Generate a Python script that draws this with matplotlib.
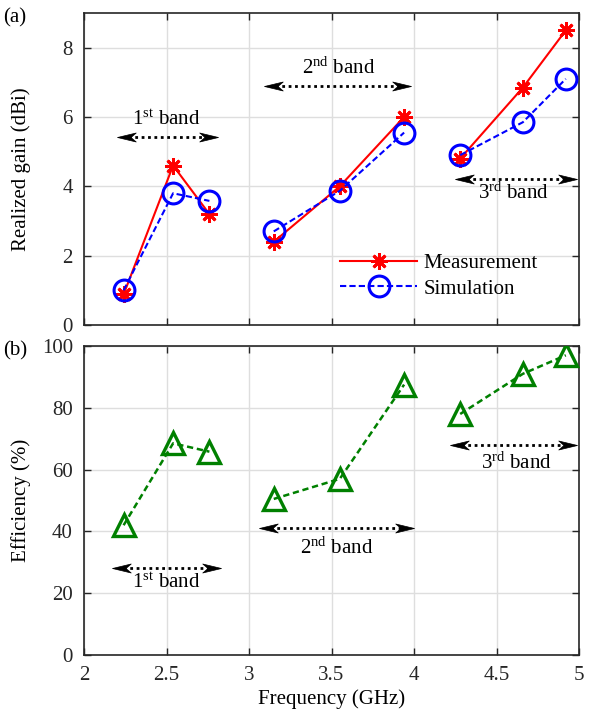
import matplotlib
matplotlib.use("Agg")
import matplotlib.pyplot as plt
from matplotlib.path import Path

plt.rcParams['font.family'] = ['Liberation Serif', 'DejaVu Serif']
plt.rcParams['mathtext.fontset'] = 'custom'
plt.rcParams['mathtext.rm'] = 'Liberation Serif'
plt.rcParams['mathtext.it'] = 'Liberation Serif:italic'

# ---- data ----
freq_bands = [[2.24, 2.54, 2.76], [3.15, 3.55, 3.94], [4.28, 4.66, 4.92]]
gain_meas = [[0.88, 4.6, 3.2], [2.4, 4.0, 6.0], [4.8, 6.85, 8.5]]
gain_sim = [[1.0, 3.8, 3.58], [2.7, 3.87, 5.55], [4.9, 5.85, 7.1]]
efficiency = [[42.0, 68.5, 65.8], [50.5, 57.0, 87.5], [78.0, 91.0, 97.0]]
band_labels = ['1$^{\\mathrm{st}}$ band', '2$^{\\mathrm{nd}}$ band', '3$^{\\mathrm{rd}}$ band']
# arrow spans (x0, x1, y) and text positions (x, y)
gain_arrows = [(2.2, 2.81, 5.43), (3.09, 3.98, 6.9), (4.25, 4.99, 4.2)]
gain_texts = [(2.5, 5.9), (3.545, 7.4), (4.6, 3.8)]
eff_arrows = [(2.17, 2.83, 28.2), (3.06, 4.0, 41.2), (4.22, 4.99, 67.8)]
eff_texts = [(2.5, 23.2), (3.53, 34.7), (4.62, 62.2)]
xticks = [2, 2.5, 3, 3.5, 4, 4.5, 5]
xticklabels = ['2', '2.5', '3', '3.5', '4', '4.5', '5']

W, H = 613, 711
fig = plt.figure(figsize=(W / 100, H / 100), dpi=100)
ax1 = fig.add_axes([84 / W, 1 - 325 / H, 495 / W, 312 / H])
ax2 = fig.add_axes([84 / W, 1 - 655 / H, 495 / W, 309 / H])

FS = 15
red = (1, 0, 0)
blue = (0, 0, 1)
green = (0, 0.5, 0)

# stealth-style arrowhead markers (tip at origin)
_right = Path([(0, 0), (-1, 0.24), (-0.72, 0), (-1, -0.24), (0, 0)],
              [Path.MOVETO, Path.LINETO, Path.LINETO, Path.LINETO, Path.CLOSEPOLY])
_left = Path([(0, 0), (1, 0.24), (0.72, 0), (1, -0.24), (0, 0)],
             [Path.MOVETO, Path.LINETO, Path.LINETO, Path.LINETO, Path.CLOSEPOLY])


def style_axes(ax, ylim, yticks):
    ax.set_xlim(2, 5)
    ax.set_ylim(*ylim)
    ax.set_xticks(xticks)
    ax.set_yticks(yticks)
    ax.grid(True, color=(0.87, 0.87, 0.87), linewidth=1.0)
    ax.set_axisbelow(True)
    ax.tick_params(direction='in', length=5, width=1, top=True, right=True,
                   labelsize=FS, colors=(0.15, 0.15, 0.15))
    ax.tick_params(axis='y', pad=8)
    ax.tick_params(axis='x', pad=8)
    for s in ax.spines.values():
        s.set_color((0.15, 0.15, 0.15))
        s.set_linewidth(1.2)
    ax.yaxis.set_label_coords(-0.107, 0.5)


def draw_arrow(ax, x0, x1, y):
    ax.plot([x0 + 0.03, x1 - 0.03], [y, y], color='black', linewidth=2.0,
            linestyle=(0, (1.0, 1.3)), dash_capstyle='butt', zorder=2)
    ax.plot([x1], [y], marker=_right, markersize=27, color='black',
            markeredgewidth=0.5, linestyle='none', zorder=2, clip_on=False)
    ax.plot([x0], [y], marker=_left, markersize=27, color='black',
            markeredgewidth=0.5, linestyle='none', zorder=2, clip_on=False)


# top panel
style_axes(ax1, (0, 9), [0, 2, 4, 6, 8])
ax1.set_xticklabels([])
for i, (fx, gm, gs) in enumerate(zip(freq_bands, gain_meas, gain_sim)):
    ax1.plot(fx, gm, color=red, linestyle='-', linewidth=1.5,
             marker=(8, 2, 0), markersize=12, markeredgewidth=2,
             label='Measurement' if i == 0 else None, zorder=3)
    ax1.plot(fx, gs, color=blue, linestyle='--', linewidth=1.5, dashes=(3, 1.5),
             marker='o', markersize=15, markeredgewidth=2.2, markerfacecolor='none',
             label='Simulation' if i == 0 else None, zorder=4)
for (x0, x1, y), (tx, ty), lab in zip(gain_arrows, gain_texts, band_labels):
    draw_arrow(ax1, x0, x1, y)
    ax1.text(tx, ty, lab, fontsize=FS, ha='center', va='center')
ax1.set_ylabel('Realized gain (dBi)', fontsize=FS)
ax1.legend(loc='upper left', bbox_to_anchor=(0.518, 0.23), frameon=False,
           fontsize=FS, handlelength=3.7, borderpad=0, borderaxespad=0,
           labelspacing=0.3, handletextpad=0.3)

# bottom panel
style_axes(ax2, (0, 100), [0, 20, 40, 60, 80, 100])
ax2.set_xticklabels(xticklabels)
for fx, ef in zip(freq_bands, efficiency):
    ax2.plot(fx, ef, color=green, linestyle='--', linewidth=1.8, dashes=(2.5, 1.5),
             marker='^', markersize=16, markeredgewidth=2.4, markerfacecolor='none',
             zorder=3)
for (x0, x1, y), (tx, ty), lab in zip(eff_arrows, eff_texts, band_labels):
    draw_arrow(ax2, x0, x1, y)
    ax2.text(tx, ty, lab, fontsize=FS, ha='center', va='center')
ax2.set_ylabel('Efficiency (%)', fontsize=FS)
ax2.set_xlabel('Frequency (GHz)', fontsize=FS, labelpad=3)

fig.text(3 / W, 1 - 18 / H, '(a)', fontsize=FS, va='center', ha='left')
fig.text(3 / W, 1 - 351 / H, '(b)', fontsize=FS, va='center', ha='left')

fig.savefig('out.png', dpi=100)
